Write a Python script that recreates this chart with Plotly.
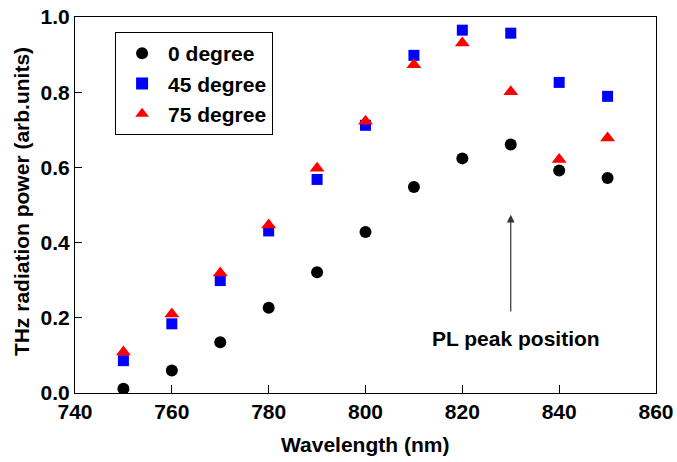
import plotly.graph_objects as go

wavelength = [750, 760, 770, 780, 790, 800, 810, 820, 830, 840, 850]
deg0 = [0.011, 0.060, 0.135, 0.227, 0.321, 0.428, 0.548, 0.624, 0.661, 0.592, 0.572]
deg45 = [0.086, 0.184, 0.299, 0.431, 0.568, 0.712, 0.898, 0.965, 0.957, 0.826, 0.789]
deg75 = [0.109, 0.210, 0.319, 0.447, 0.598, 0.723, 0.873, 0.931, 0.801, 0.621, 0.678]
x_ticks = [740, 760, 780, 800, 820, 840, 860]
y_ticks = [0.0, 0.2, 0.4, 0.6, 0.8, 1.0]

FONT = "Liberation Sans, Arial, sans-serif"
BF = dict(family=FONT, size=21, color="black", weight="bold")

fig = go.Figure()
fig.add_trace(go.Scatter(x=wavelength, y=deg0, mode="markers", name="0 degree",
                         marker=dict(symbol="circle", size=12, color="black")))
fig.add_trace(go.Scatter(x=wavelength, y=deg45, mode="markers", name="45 degree",
                         marker=dict(symbol="square", size=11, color="#0000ff")))
fig.add_trace(go.Scatter(x=wavelength, y=deg75, mode="markers", name="75 degree",
                         marker=dict(symbol="triangle-up", size=13, color="#ff0000")))

fig.add_annotation(x=830, y=0.474, ax=830, ay=0.213, xref="x", yref="y", axref="x", ayref="y",
                   showarrow=True, arrowhead=2, arrowsize=1.3, arrowwidth=1.2,
                   arrowcolor="#333333", text="")
fig.add_annotation(x=831, y=0.146, xref="x", yref="y", text="PL peak position",
                   showarrow=False, font=BF)
fig.add_annotation(x=0.499, y=-0.138, xref="paper", yref="paper", text="Wavelength (nm)",
                   showarrow=False, font=BF, xanchor="center", yanchor="middle")
fig.add_annotation(x=-0.091, y=0.508, xref="paper", yref="paper",
                   text="THz radiation power (arb.units)", textangle=-90,
                   showarrow=False, font=BF, xanchor="center", yanchor="middle")

fig.update_layout(
    width=677, height=462,
    margin=dict(l=75, r=21, t=17, b=69),
    plot_bgcolor="white", paper_bgcolor="white",
    font=dict(family=FONT, color="black"),
    showlegend=True,
    legend=dict(x=0.069, y=0.96, xanchor="left", yanchor="top",
                bordercolor="black", borderwidth=1, bgcolor="white",
                font=dict(family=FONT, size=21, color="black", weight="bold"),
                itemsizing="constant", itemwidth=42, tracegroupgap=0),
    xaxis=dict(range=[740, 860], tickvals=x_ticks, ticks="inside", ticklen=8,
               tickcolor="black", showline=True, linecolor="black", linewidth=1,
               mirror=True, showgrid=False, zeroline=False, automargin=False,
               tickfont=BF),
    yaxis=dict(range=[0, 1.0], tickvals=y_ticks, tickformat=".1f", ticks="inside", ticklen=7,
               tickcolor="black", showline=True, linecolor="black", linewidth=1,
               mirror=True, showgrid=False, zeroline=False, automargin=False,
               tickfont=BF),
)

fig.write_html("out.html")
